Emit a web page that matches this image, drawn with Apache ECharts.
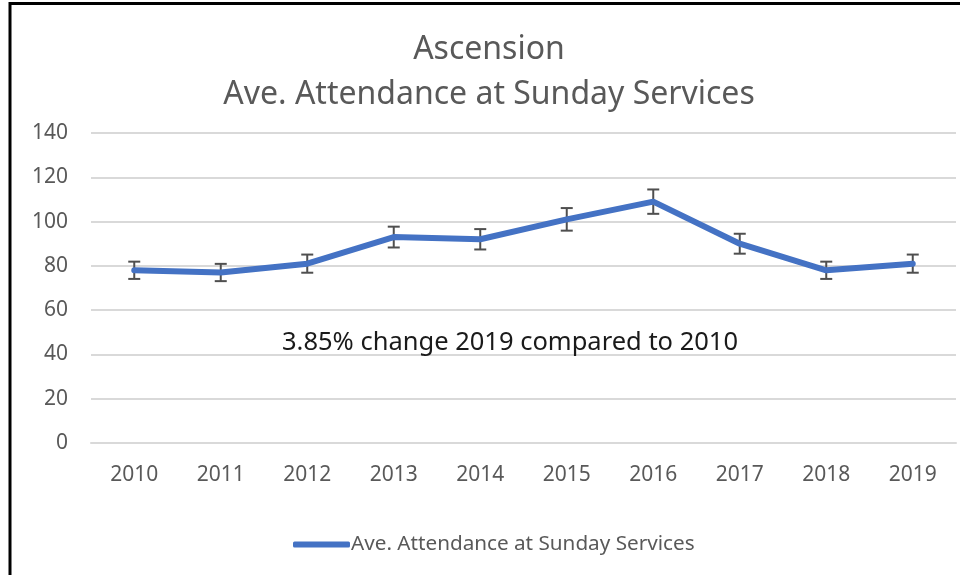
<!DOCTYPE html>
<html>
<head>
<meta charset="utf-8">
<title>Ascension - Ave. Attendance at Sunday Services</title>
<script src="https://cdn.jsdelivr.net/npm/echarts@6/dist/echarts.min.js"></script>
<style>
  html, body { margin: 0; padding: 0; background: #fff; }
  #chart { width: 960px; height: 575px; }
</style>
</head>
<body>
<div id="chart"></div>
<script>
// chart data
const years = ['2010', '2011', '2012', '2013', '2014', '2015', '2016', '2017', '2018', '2019']
const attendance = [78, 77, 81, 93, 92, 101, 109, 90, 78, 81]
// error bar half-heights
const errorAmount = [3.9, 3.9, 4.1, 4.7, 4.6, 5.1, 5.5, 4.5, 3.9, 4.1]
const yTicks = [0, 20, 40, 60, 80, 100, 120, 140]

const seriesName = 'Ave. Attendance at Sunday Services'
const note = '3.85% change 2019 compared to 2010'

// colours
const lineColor = '#4472C4'
const textGrey = '#595959'
const gridGrey = '#D9D9D9'
const fontFamily = '"Noto Sans", "Open Sans", sans-serif'

const chart = echarts.init(document.getElementById('chart'))

// error bar data: [category index, low, high]
const errorData = attendance.map((v, i) => [i, v - errorAmount[i], v + errorAmount[i]])

const option = {
  animation: false,
  backgroundColor: '#fff',
  title: {
    text: 'Ascension\n' + seriesName,
    left: 484,
    top: 22,
    textAlign: 'center',
    textStyle: {
      fontFamily: fontFamily,
      fontSize: 32,
      fontWeight: 'normal',
      color: textGrey,
      lineHeight: 45
    }
  },
  grid: {
    left: 91,
    right: 4,
    top: 133,
    bottom: 132
  },
  legend: {
    data: [seriesName],
    left: 288,
    top: 529,
    icon: 'roundRect',
    itemWidth: 57,
    itemHeight: 6,
    itemGap: 10,
    itemStyle: { color: lineColor },
    textStyle: {
      fontFamily: fontFamily,
      fontSize: 20.7,
      color: textGrey,
      padding: [0, 0, 0, -4]
    }
  },
  xAxis: {
    type: 'category',
    data: years,
    boundaryGap: true,
    axisLine: { show: true, lineStyle: { color: gridGrey, width: 2 } },
    axisTick: { show: false },
    axisLabel: {
      margin: 22,
      fontFamily: fontFamily,
      fontSize: 21,
      color: textGrey
    }
  },
  yAxis: {
    type: 'value',
    min: yTicks[0],
    max: yTicks[yTicks.length - 1],
    interval: 20,
    axisLine: { show: false },
    axisTick: { show: false },
    splitLine: { lineStyle: { color: gridGrey, width: 2 } },
    axisLabel: {
      margin: 23,
      fontFamily: fontFamily,
      fontSize: 21,
      color: textGrey
    }
  },
  graphic: [
    // frame around the chart
    {
      type: 'line',
      shape: { x1: 9, y1: 3.5, x2: 960, y2: 3.5 },
      style: { stroke: '#000', lineWidth: 3 }
    },
    {
      type: 'line',
      shape: { x1: 10, y1: 2, x2: 10, y2: 575 },
      style: { stroke: '#000', lineWidth: 3 }
    },
    // annotation text box
    {
      type: 'text',
      x: 510,
      y: 343,
      z: 10,
      style: {
        text: note,
        fontFamily: fontFamily,
        fontSize: 25.5,
        fill: '#1A1A1A',
        align: 'center',
        verticalAlign: 'middle'
      }
    }
  ],
  series: [
    {
      // error bars (drawn first so the line sits on top)
      name: 'error',
      type: 'custom',
      data: errorData,
      encode: { x: 0, y: [1, 2] },
      renderItem: (params, api) => {
        const x = api.value(0)
        const low = api.coord([x, api.value(1)])
        const high = api.coord([x, api.value(2)])
        const cap = 6
        const style = { stroke: '#4F4F4F', lineWidth: 2 }
        return {
          type: 'group',
          children: [
            { type: 'line', shape: { x1: high[0], y1: high[1], x2: low[0], y2: low[1] }, style: style },
            { type: 'line', shape: { x1: high[0] - cap, y1: high[1], x2: high[0] + cap, y2: high[1] }, style: style },
            { type: 'line', shape: { x1: low[0] - cap, y1: low[1], x2: low[0] + cap, y2: low[1] }, style: style }
          ]
        }
      }
    },
    {
      name: seriesName,
      type: 'line',
      data: attendance,
      symbol: 'none',
      lineStyle: { width: 6, color: lineColor, cap: 'round', join: 'round' },
      itemStyle: { color: lineColor }
    }
  ]
}

chart.setOption(option)
</script>
</body>
</html>
